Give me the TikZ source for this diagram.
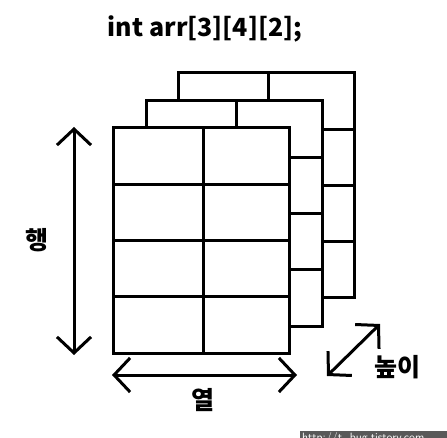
\documentclass[tikz,border=0pt]{standalone}
\usepackage{fontspec}
\newfontfamily\kr{Noto Sans CJK KR}
\usetikzlibrary{arrows.meta}
\tikzset{
  gridline/.style={line width=3pt, line join=miter},
  dimarrow/.style={line width=3pt, {Straight Barb[length=16pt,width=34pt,line width=3pt]}-{Straight Barb[length=16pt,width=34pt,line width=3pt]}},
  lbl/.style={font=\kr\bfseries\fontsize{25}{25}\selectfont, inner sep=0pt},
}
\begin{document}
\begin{tikzpicture}[x=1pt,y=-1pt]
\useasboundingbox[fill=white] (0,0) rectangle (447,438);
\node[font=\kr\bfseries\fontsize{25}{25}\selectfont, inner sep=0pt] (title) at (205,29) {int arr[3][4][2];};
\foreach \ox/\oy in {178/73,146/101,113/128}{
  \fill[white] (\ox,\oy) rectangle ++(176,225);
  \draw[gridline] (\ox,\oy) rectangle ++(176,225);
  \draw[gridline] (\ox+90,\oy) -- ++(0,225);
  \foreach \k in {1,2,3}{
    \draw[gridline] (\ox,\oy+56.25*\k) -- ++(176,0);
  }
}
\coordinate (vt) at (74,127);
\coordinate (vb) at (74,355);
\draw[dimarrow] (vt) -- (vb);
\node[lbl] (haeng) at (37,240) {행};
\coordinate (hl) at (112,375);
\coordinate (hr) at (297,375);
\draw[dimarrow] (hl) -- (hr);
\node[lbl] (yeol) at (203,400) {열};
\coordinate (dt) at (380,324);
\coordinate (db) at (327,376);
\draw[dimarrow] (db) -- (dt);
\node[lbl] (nopi) at (397,367) {높이};
\fill[black!65] (300,431) rectangle (447,438);
\begin{scope}
\clip (300,431) rectangle (447,438);
\node[anchor=north west, text=white, font=\sffamily\fontsize{12}{12}\selectfont, inner sep=0pt] (wm) at (302,432) {http://t\_bug.tistory.com};
\end{scope}
\end{tikzpicture}
\end{document}
